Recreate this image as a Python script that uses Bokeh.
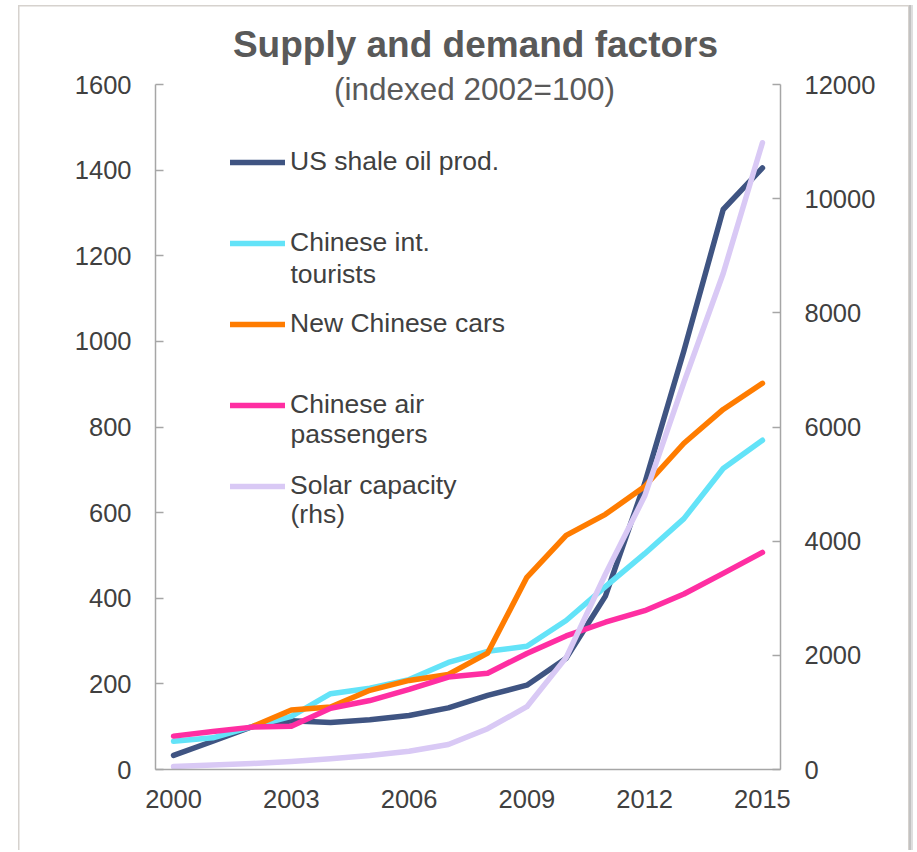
from bokeh.plotting import figure
from bokeh.models import Range1d, LinearAxis, FixedTicker, Legend, LegendItem, Label
from bokeh.embed import file_html
from bokeh.resources import INLINE

# ---------------- data ----------------
years = list(range(2000, 2016))
shale_oil = [33, 66, 100, 114, 110, 116, 126, 144, 173, 197, 260, 405, 668, 978, 1308, 1405]
tourists = [66, 74, 100, 124, 177, 190, 210, 250, 276, 288, 348, 427, 504, 586, 703, 769]
car_years = list(range(2002, 2016))
new_cars = [100, 139, 146, 185, 208, 222, 272, 449, 547, 596, 661, 762, 841, 902]
air_passengers = [78, 89, 99, 101, 143, 161, 187, 216, 225, 271, 312, 344, 371, 410, 458, 507]
solar_rhs = [52, 80, 105, 140, 187, 245, 320, 438, 715, 1100, 1960, 3420, 4790, 6780, 8690, 10980]

x_ticks = [2000, 2003, 2006, 2009, 2012, 2015]
left_ticks = [0, 200, 400, 600, 800, 1000, 1200, 1400, 1600]
right_ticks = [0, 2000, 4000, 6000, 8000, 10000, 12000]
left_max = 1600
right_max = 12000

labels = ["US shale oil prod.", "Chinese int.", "New Chinese cars", "Chinese air", "Solar capacity"]
second_lines = ["tourists", "passengers", "(rhs)"]
colors = ["#3F5482", "#63E3F8", "#FF7C00", "#FF2EA2", "#D9C9F5"]

FONT = "Liberation Sans"
TEXT = "#404040"
AXIS = "#A6A6A6"

# layout (pixels)
W, H = 914, 850
LEFT, RIGHT_EDGE, AXIS_TOP, BOTTOM = 155, 780, 84, 769
frame_h = BOTTOM            # frame runs from canvas top down to the x axis
scale_up = frame_h / (BOTTOM - AXIS_TOP)

p = figure(width=W, height=H, output_backend="svg", toolbar_location=None,
           x_range=Range1d(1999.54, 2015.46), y_range=Range1d(0, left_max * scale_up),
           min_border_left=LEFT, min_border_right=W - RIGHT_EDGE,
           min_border_top=0, min_border_bottom=H - BOTTOM)
p.extra_y_ranges = {"rhs": Range1d(0, right_max * scale_up)}
p.xgrid.visible = False
p.ygrid.visible = False
p.outline_line_color = None
p.background_fill_alpha = 0
p.border_fill_alpha = 0
p.styles = {
    "box-shadow": ", ".join([
        "inset 18px 0 0 0 #ffffff",
        "inset 0 5px 0 0 #ffffff",
        "inset -1px 0 0 0 #ffffff",
        "inset -3px 0 0 0 #dedede",
        "inset -5px 0 0 0 #c2c2c2",
        "inset -6px 0 0 0 #d6d2ce",
        "inset 19.5px 0 0 0 #d6d2ce",
        "inset 0 6.5px 0 0 #d6d2ce",
    ]),
    "background-color": "#ffffff",
}

lw = 5.5
common = dict(line_width=lw, line_cap="round", line_join="round")
r_shale = p.line(years, shale_oil, line_color=colors[0], **common)
r_tour = p.line(years, tourists, line_color=colors[1], **common)
r_cars = p.line(car_years, new_cars, line_color=colors[2], **common)
r_air = p.line(years, air_passengers, line_color=colors[3], **common)
r_solar = p.line(years, solar_rhs, line_color=colors[4], y_range_name="rhs", **common)

def style_axis(ax, tin):
    ax.axis_line_color = AXIS
    ax.axis_line_width = 1.5
    ax.major_tick_line_color = AXIS
    ax.major_tick_line_width = 1.5
    ax.major_tick_in = tin
    ax.major_tick_out = 0
    ax.minor_tick_in = 0
    ax.minor_tick_out = 0
    ax.major_label_text_font = FONT
    ax.major_label_text_font_size = "25.5px"
    ax.major_label_text_color = TEXT

xa = p.xaxis[0]
xa.ticker = FixedTicker(ticks=x_ticks)
style_axis(xa, 0)
xa.major_label_standoff = 20

ya = p.yaxis[0]
ya.ticker = FixedTicker(ticks=left_ticks)
ya.bounds = (0, left_max)
style_axis(ya, 8)
ya.major_label_standoff = 24

ra = LinearAxis(y_range_name="rhs", ticker=FixedTicker(ticks=right_ticks), bounds=(0, right_max))
style_axis(ra, 8)
ra.major_label_standoff = 24
p.add_layout(ra, "right")

renderers = [r_shale, r_tour, r_cars, r_air, r_solar]
legend = Legend(items=[LegendItem(label=l, renderers=[r]) for l, r in zip(labels, renderers)],
                location=(75, 268), orientation="vertical",
                glyph_width=55, glyph_height=30, label_height=30, spacing=50,
                padding=0, margin=0, label_standoff=5,
                label_text_font=FONT, label_text_font_size="26.5px", label_text_color=TEXT,
                border_line_alpha=0, background_fill_alpha=0)
p.add_layout(legend)

for txt, yy in zip(second_lines, [496, 336, 256]):
    p.add_layout(Label(x=135, y=yy, x_units="screen", y_units="screen", text=txt,
                       text_font=FONT, text_font_size="26.5px", text_color=TEXT,
                       text_baseline="middle", text_align="left"))

p.add_layout(Label(x=320, y=725, x_units="screen", y_units="screen",
                   text="Supply and demand factors", text_font=FONT, text_font_size="37px",
                   text_font_style="bold", text_color="#595959",
                   text_align="center", text_baseline="middle"))
p.add_layout(Label(x=319, y=681, x_units="screen", y_units="screen",
                   text="(indexed 2002=100)", text_font=FONT, text_font_size="31.5px",
                   text_color="#595959", text_align="center", text_baseline="middle"))

open("out.html", "w").write(file_html(p, INLINE))
